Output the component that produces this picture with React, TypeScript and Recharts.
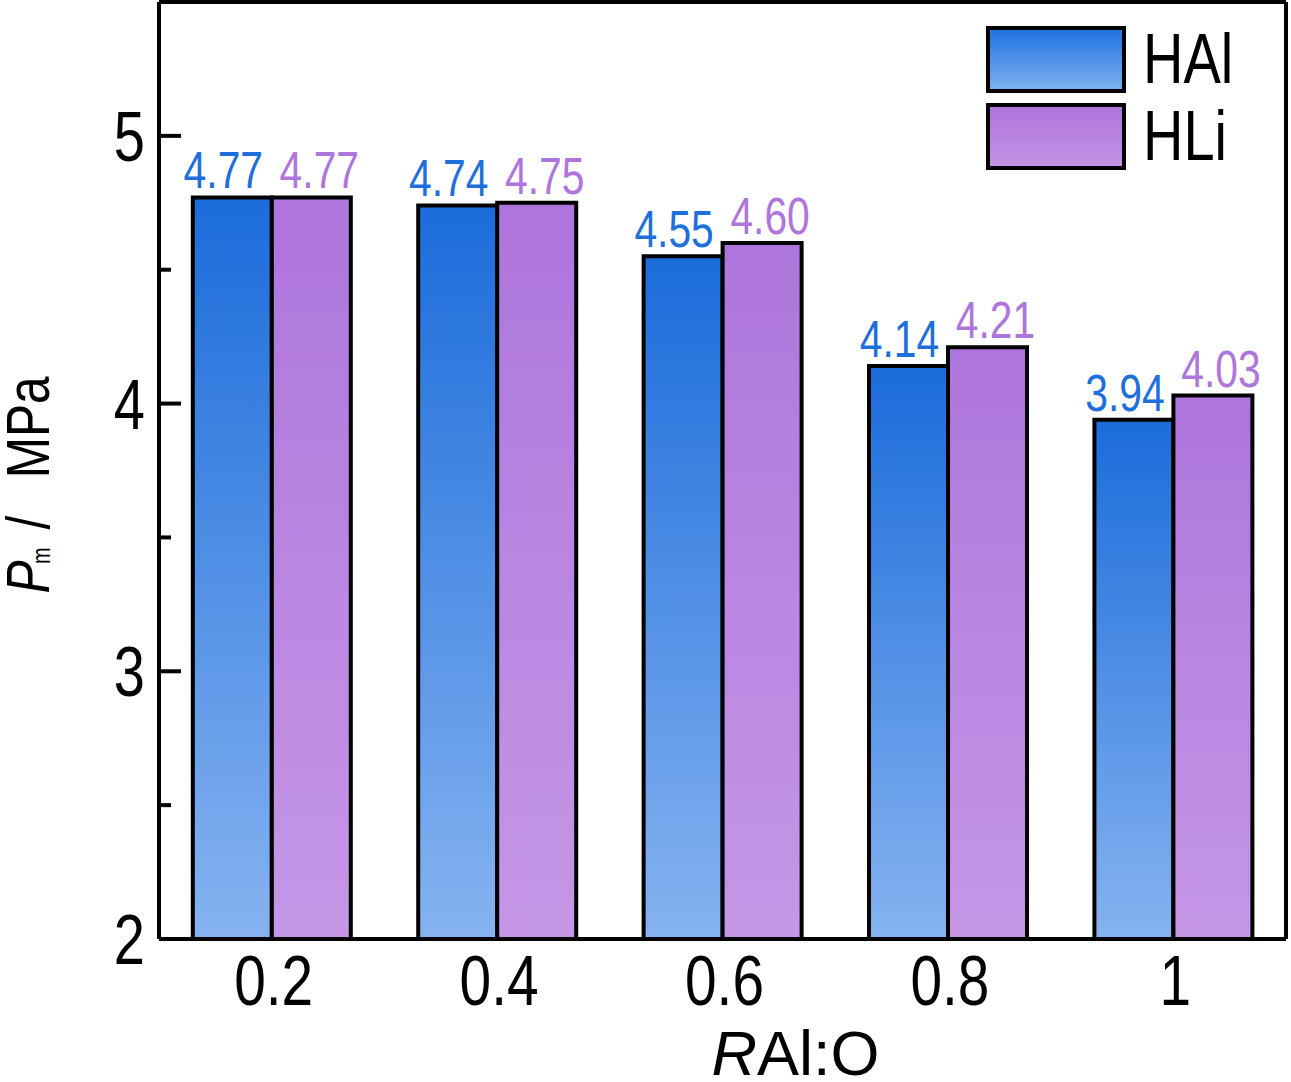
import React from 'react'
import { Bar, BarChart, Label, LabelList, Legend, XAxis, YAxis } from 'recharts'

const categorias = ['0.2', '0.4', '0.6', '0.8', '1']
const valoresHAl = [4.77, 4.74, 4.55, 4.14, 3.94]
const valoresHLi = [4.77, 4.75, 4.6, 4.21, 4.03]
const ticksY = [2, 2.5, 3, 3.5, 4, 4.5, 5]
const nomesSeries = ['HAl', 'HLi']

const FONTE = "'Liberation Sans', Arial, sans-serif"
const ESTREITO = 0.8
const AZUL = '#1E6FDC'
const ROXO = '#AE76DC'

const dados = categorias.map((cat, i) => ({
  cat,
  hal: valoresHAl[i],
  hli: valoresHLi[i],
}))

// texto "narrow": a fonte base é escalada no eixo x
function TextoEstreito(props: any) {
  const { x, y, size, fill = '#000', anchor = 'middle', children } = props
  return (
    <text
      transform={`translate(${x} ${y}) scale(${ESTREITO} 1)`}
      textAnchor={anchor}
      fontSize={size}
      fontFamily={FONTE}
      fill={fill}
    >
      {children}
    </text>
  )
}

function TickY(props: any) {
  const { x, y, payload } = props
  const principal = Number.isInteger(payload.value)
  return (
    <g>
      <line x1={x} x2={x + (principal ? 22 : 12)} y1={y} y2={y} stroke="#000" strokeWidth={4} />
      {principal && (
        <TextoEstreito x={x - 14} y={y + 25} size={70} anchor="end">
          {payload.value}
        </TextoEstreito>
      )}
    </g>
  )
}

function TickX(props: any) {
  const { x, y, payload } = props
  return (
    <TextoEstreito x={x + 2} y={y + 66} size={71}>
      {payload.value}
    </TextoEstreito>
  )
}

function rotuloValor(cor: string, dx: number) {
  return (props: any) => {
    const { x, y, width, value } = props
    return (
      <TextoEstreito x={x + width / 2 + dx} y={y - 9} size={51} fill={cor}>
        {Number(value).toFixed(2)}
      </TextoEstreito>
    )
  }
}

const gradientesLegenda = [
  'linear-gradient(to bottom, #2173E0, #7DB0F0)',
  'linear-gradient(to bottom, #AE73DC, #C393E4)',
]

function renderLegenda() {
  return (
    <div style={{ fontFamily: FONTE }}>
      {nomesSeries.map((nome, i) => (
        <div key={nome} style={{ display: 'flex', alignItems: 'center', height: 67, marginBottom: 10 }}>
          <div
            style={{
              width: 132,
              height: 59,
              border: '4px solid #000',
              background: gradientesLegenda[i],
            }}
          />
          <span
            style={{
              display: 'inline-block',
              fontSize: 70,
              marginLeft: 17,
              color: '#000',
              lineHeight: '67px',
              transform: `scaleX(${ESTREITO})`,
              transformOrigin: 'left center',
            }}
          >
            {nome}
          </span>
        </div>
      ))}
    </div>
  )
}

export default function App() {
  return (
    <div style={{ position: 'absolute', left: 0, top: 0, width: 1291, height: 1082, background: '#fff' }}>
      <BarChart
        width={1291}
        height={1082}
        data={dados}
        margin={{ top: 1, right: 4, bottom: 0, left: 0 }}
        barCategoryGap="15%"
        barGap={0}
      >
        <defs>
          <linearGradient id="gradHAl" x1="0" y1="0" x2="0" y2="1">
            <stop offset="0%" stopColor="#1B6CDB" />
            <stop offset="100%" stopColor="#86B3F0" />
          </linearGradient>
          <linearGradient id="gradHLi" x1="0" y1="0" x2="0" y2="1">
            <stop offset="0%" stopColor="#AE75DC" />
            <stop offset="100%" stopColor="#C597E6" />
          </linearGradient>
        </defs>
        <XAxis
          dataKey="cat"
          height={143}
          interval={0}
          tickLine={false}
          tickSize={0}
          tickMargin={0}
          axisLine={{ stroke: '#000', strokeWidth: 4 }}
          tick={(p: any) => <TickX {...p} />}
        >
          <Label
            content={(p: any) => {
              const vb = p.viewBox
              return (
                <text
                  x={vb.x + vb.width / 2 + 73}
                  y={vb.y + 136}
                  textAnchor="middle"
                  fontSize={63}
                  fontFamily={FONTE}
                  fill="#000"
                >
                  <tspan fontStyle="italic">R</tspan>
                  <tspan>Al:O</tspan>
                </text>
              )
            }}
          />
        </XAxis>
        <XAxis
          xAxisId="topo"
          orientation="top"
          dataKey="cat"
          height={1}
          tick={false}
          tickLine={false}
          axisLine={{ stroke: '#000', strokeWidth: 4 }}
        />
        <YAxis
          domain={[2, 5.5]}
          ticks={ticksY}
          width={159}
          interval={0}
          tickSize={0}
          tickMargin={0}
          tickLine={false}
          axisLine={{ stroke: '#000', strokeWidth: 4 }}
          tick={(p: any) => <TickY {...p} />}
        >
          <Label
            content={(p: any) => {
              const vb = p.viewBox
              const bx = 49
              const by = vb.y + vb.height / 2 + 123
              return (
                <text
                  transform={`translate(${bx} ${by}) rotate(-90) scale(${ESTREITO} 1)`}
                  fontSize={62}
                  fontFamily={FONTE}
                  fill="#000"
                >
                  <tspan x={0} y={0} fontStyle="italic">P</tspan>
                  <tspan x={37} y={1} fontSize={25}>m</tspan>
                  <tspan x={80} y={0}>/</tspan>
                  <tspan x={144} y={0}>MPa</tspan>
                </text>
              )
            }}
          />
        </YAxis>
        <YAxis
          yAxisId="direita"
          orientation="right"
          domain={[2, 5.5]}
          width={1}
          tick={false}
          tickLine={false}
          axisLine={{ stroke: '#000', strokeWidth: 4 }}
        />
        <Legend
          layout="vertical"
          align="center"
          verticalAlign="middle"
          content={renderLegenda}
          wrapperStyle={{ top: 26, left: 986, width: 'auto' }}
        />
        <Bar dataKey="hal" name="HAl" fill="url(#gradHAl)" stroke="#000" strokeWidth={4} isAnimationActive={false}>
          <LabelList dataKey="hal" content={rotuloValor(AZUL, -9)} />
        </Bar>
        <Bar dataKey="hli" name="HLi" fill="url(#gradHLi)" stroke="#000" strokeWidth={4} isAnimationActive={false}>
          <LabelList dataKey="hli" content={rotuloValor(ROXO, 8)} />
        </Bar>
      </BarChart>
    </div>
  )
}
